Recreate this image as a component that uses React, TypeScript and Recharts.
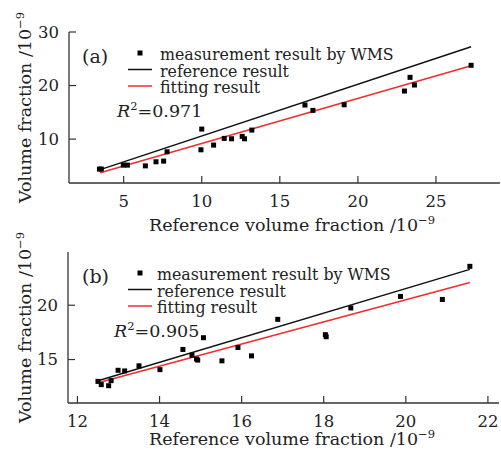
import { Scatter, ScatterChart, XAxis, YAxis } from "recharts";

const FONT = '"DejaVu Serif", serif';
const RED = "#f42b2b";
const AXIS = "#333";

// panel (a)
const measuredAX = [3.45, 3.57, 4.98, 5.24, 6.39, 7.07, 7.56, 7.78, 10.0, 9.95, 10.76, 11.44, 11.91, 12.59, 12.74, 13.21, 16.61, 17.12, 19.12, 22.98, 23.34, 23.62, 27.25];
const measuredAY = [4.4, 4.4, 5.14, 5.14, 5.0, 5.76, 5.89, 7.63, 11.87, 8.0, 8.88, 10.13, 10.06, 10.5, 10.06, 11.68, 16.36, 15.36, 16.41, 18.97, 21.53, 20.1, 23.78];
const referenceAX = [3.5, 27.25];
const referenceAY = [4.3, 27.25];
const fittingAX = [3.5, 27.25];
const fittingAY = [3.7, 23.7];
const xTicksA = [5, 10, 15, 20, 25];
const yTicksA = [10, 20, 30];

// panel (b)
const measuredBX = [12.5, 12.58, 12.76, 12.82, 12.99, 13.15, 13.5, 14.01, 14.57, 14.79, 14.9, 14.93, 15.07, 15.52, 15.91, 16.24, 16.88, 18.04, 18.06, 18.66, 19.87, 20.89, 21.56];
const measuredBY = [12.99, 12.69, 12.59, 13.06, 14.01, 13.95, 14.42, 14.07, 15.93, 15.4, 15.05, 14.95, 17.01, 14.88, 16.11, 15.34, 18.7, 17.29, 17.1, 19.75, 20.81, 20.53, 23.58];
const referenceBX = [12.5, 21.56];
const referenceBY = [13.05, 23.3];
const fittingBX = [12.5, 21.56];
const fittingBY = [12.87, 22.1];
const xTicksB = [12, 14, 16, 18, 20, 22];
const yTicksB = [15, 20];

const zip = (xs: number[], ys: number[]) => xs.map((x, i) => ({ x, y: ys[i] }));

const XTick = (props: any) => {
  const { x, y, payload } = props;
  return (
    <g>
      <line x1={x} x2={x} y1={y} y2={y - 7} stroke={AXIS} strokeWidth={1.2} />
      <text x={x} y={y + 24} textAnchor="middle" fontFamily={FONT} fontSize={16.5} fill="#222">
        {payload.value}
      </text>
    </g>
  );
};

const YTick = (props: any) => {
  const { x, y, payload } = props;
  return (
    <g>
      <line x1={x} x2={x + 7} y1={y} y2={y} stroke={AXIS} strokeWidth={1.2} />
      <text x={x - 10} y={y} dy="0.36em" textAnchor="end" fontFamily={FONT} fontSize={16.5} fill="#222">
        {payload.value}
      </text>
    </g>
  );
};

const Square = (props: any) => {
  const { cx, cy } = props;
  return <rect x={cx - 2.5} y={cy - 2.5} width={5} height={5} fill="#000" />;
};

const Nothing = () => <g />;

type PanelProps = {
  top: number;
  height: number;
  yAxisWidth: number;
  rightMargin: number;
  plotHeight: number;
  xDomain: [number, number];
  yDomain: [number, number];
  xTicks: number[];
  yTicks: number[];
  measured: { x: number; y: number }[];
  reference: { x: number; y: number }[];
  fitting: { x: number; y: number }[];
};

function Panel(p: PanelProps) {
  const marginTop = 32;
  return (
    <div style={{ position: "absolute", left: 0, top: p.top }}>
      <ScatterChart
        width={501}
        height={p.height}
        margin={{ top: marginTop, right: p.rightMargin, left: 0, bottom: 0 }}
      >
        <XAxis
          type="number"
          dataKey="x"
          domain={p.xDomain}
          ticks={p.xTicks}
          allowDataOverflow
          height={p.height - marginTop - p.plotHeight}
          tickSize={0}
          tickMargin={0}
          tickLine={false}
          tick={XTick}
          stroke={AXIS}
          strokeWidth={1.3}
        />
        <YAxis
          type="number"
          dataKey="y"
          domain={p.yDomain}
          ticks={p.yTicks}
          allowDataOverflow
          width={p.yAxisWidth}
          tickSize={0}
          tickMargin={0}
          tickLine={false}
          tick={YTick}
          stroke={AXIS}
          strokeWidth={1.3}
        />
        <XAxis
          xAxisId="top"
          orientation="top"
          type="number"
          domain={p.xDomain}
          allowDataOverflow
          height={0}
          tick={false}
          tickLine={false}
          stroke={AXIS}
          strokeWidth={1.3}
        />
        <YAxis
          yAxisId="right"
          orientation="right"
          type="number"
          domain={p.yDomain}
          allowDataOverflow
          width={0}
          tick={false}
          tickLine={false}
          stroke={AXIS}
          strokeWidth={1.3}
        />
        <Scatter
          data={p.reference}
          line={{ stroke: "#111", strokeWidth: 1.5 }}
          shape={Nothing}
          isAnimationActive={false}
        />
        <Scatter
          data={p.fitting}
          line={{ stroke: RED, strokeWidth: 1.5 }}
          shape={Nothing}
          isAnimationActive={false}
        />
        <Scatter data={p.measured} shape={Square} isAnimationActive={false} />
      </ScatterChart>
    </div>
  );
}

function Unit({ base }: { base: string }) {
  return (
    <>
      {base}
      <tspan dy={-7} fontSize={11.5}>
        −9
      </tspan>
    </>
  );
}

function Annotations({
  top,
  tag,
  r2,
  r2X,
  legendX,
  plotCenterX,
  plotCenterY,
  xLabelY,
}: {
  top: number;
  tag: string;
  r2: string;
  r2X: number;
  legendX: number;
  plotCenterX: number;
  plotCenterY: number;
  xLabelY: number;
}) {
  const t = (v: number) => top + v;
  return (
    <g fontFamily={FONT} fill="#222">
      <text x={82} y={t(63)} fontSize={19}>
        {tag}
      </text>
      <rect x={137.5} y={t(50.5)} width={5} height={5} fill="#000" />
      <line x1={128} x2={152} y1={t(69.5)} y2={t(69.5)} stroke="#111" strokeWidth={1.5} />
      <line x1={128} x2={152} y1={t(86)} y2={t(86)} stroke={RED} strokeWidth={1.5} />
      <text x={legendX} y={t(60)} fontSize={15.8}>
        measurement result by WMS
      </text>
      <text x={legendX} y={t(76.5)} fontSize={15.8}>
        reference result
      </text>
      <text x={legendX} y={t(93)} fontSize={15.8}>
        fitting result
      </text>
      <text x={r2X} y={t(117)} fontSize={17.5}>
        <tspan fontStyle="italic">R</tspan>
        <tspan dy={-7} fontSize={11.5}>
          2
        </tspan>
        <tspan dy={7}>={r2}</tspan>
      </text>
      <text x={plotCenterX} y={xLabelY} fontSize={17.5} textAnchor="middle">
        <Unit base="Reference volume fraction /10" />
      </text>
      <text
        x={31}
        y={plotCenterY}
        fontSize={17.5}
        textAnchor="middle"
        transform={`rotate(-90 31 ${plotCenterY})`}
      >
        <Unit base="Volume fraction /10" />
      </text>
    </g>
  );
}

export default function App() {
  return (
    <div
      style={{
        position: "absolute",
        left: 0,
        top: 0,
        width: 501,
        height: 451,
        background: "#fff",
        overflow: "hidden",
      }}
    >
      <Panel
        top={0}
        height={225}
        yAxisWidth={69}
        rightMargin={1}
        plotHeight={151}
        xDomain={[1.5, 29.1]}
        yDomain={[1.8, 30]}
        xTicks={xTicksA}
        yTicks={yTicksA}
        measured={zip(measuredAX, measuredAY)}
        reference={zip(referenceAX, referenceAY)}
        fitting={zip(fittingAX, fittingAY)}
      />
      <Panel
        top={220}
        height={231}
        yAxisWidth={68}
        rightMargin={2}
        plotHeight={151}
        xDomain={[11.77, 22.27]}
        yDomain={[11, 24.9]}
        xTicks={xTicksB}
        yTicks={yTicksB}
        measured={zip(measuredBX, measuredBY)}
        reference={zip(referenceBX, referenceBY)}
        fitting={zip(fittingBX, fittingBY)}
      />
      <svg
        width={501}
        height={451}
        style={{ position: "absolute", left: 0, top: 0, pointerEvents: "none" }}
      >
        <Annotations top={0} tag="(a)" r2="0.971" r2X={117} legendX={160} plotCenterX={292} plotCenterY={107.5} xLabelY={231} />
        <Annotations top={220} tag="(b)" r2="0.905" r2X={114} legendX={157} plotCenterX={292} plotCenterY={327.5} xLabelY={445} />
      </svg>
    </div>
  );
}
